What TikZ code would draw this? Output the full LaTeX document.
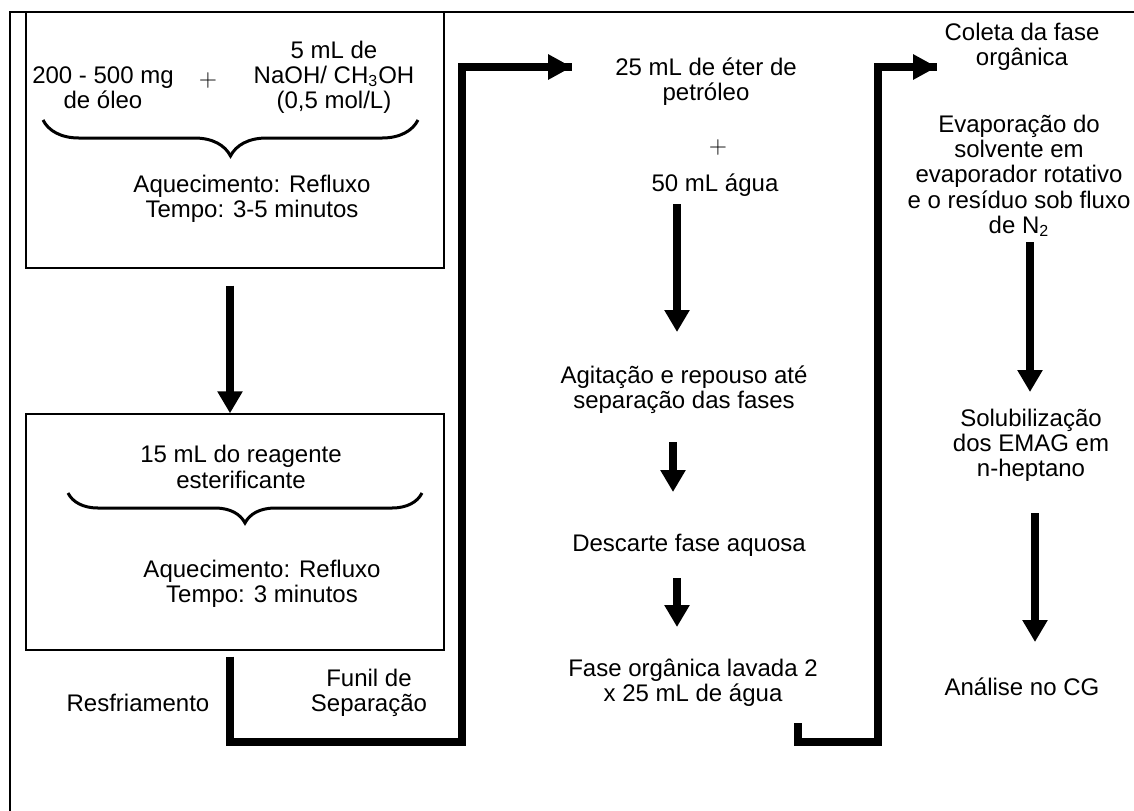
\documentclass[tikz,border=0pt]{standalone}
\usepackage{fontspec}
\setmainfont{Liberation Sans}
\usetikzlibrary{arrows.meta,decorations.pathreplacing}

\begin{document}
\begin{tikzpicture}[x=0.5pt,y=-0.5pt,
  every node/.style={align=center,inner sep=0pt,font=\fontsize{12}{12.6}\selectfont},
  box/.style={draw,line width=0.7pt},
  flow/.style={line width=3.6pt,-{Triangle[width=12pt,length=11pt]}},
  pipe/.style={line width=3.8pt,line join=miter},
  bracket/.style={decorate,decoration={brace,mirror,amplitude=#1},line width=1.5pt},
  plus/.style={font=\fontsize{13}{13}\selectfont}]

  \useasboundingbox (0,0) rectangle (1134,810);

  % frame
  \draw[line width=0.8pt] (10,820) -- (10,12) -- (1140,12);

  \node[box,minimum width=209pt,minimum height=128pt] (1) at (235,140) {};
  \node[box,minimum width=209pt,minimum height=118pt] (2) at (235,532) {};

  \node (3) at (103,88) {200 - 500 mg\\de óleo};
  \node[plus] (4) at (208,80) {$+$};
  \node (5) at (334,77) {5 mL de\\NaOH/ CH\textsubscript{3}OH\\(0,5 mol/L)};
  \node (6) at (252,199) {Aquecimento: Refluxo\\Tempo: 3-5 minutos};
  \node (7) at (241,467) {15 mL do reagente\\esterificante};
  \node (8) at (262,584) {Aquecimento: Refluxo\\Tempo: 3 minutos};
  \node (9) at (138,703) {Resfriamento};
  \node (10) at (369,693) {Funil de\\Separação};

  \node (11) at (706,82) {25 mL de éter de\\petróleo};
  \node[plus] (12) at (718,147) {$+$};
  \node (13) at (715,185) {50 mL água};
  \node (14) at (684,390) {Agitação e repouso até\\separação das fases};
  \node (15) at (689,545) {Descarte fase aquosa};
  \node (16) at (693,683) {Fase orgânica lavada 2\\x 25 mL de água};

  \node (17) at (1022,47) {Coleta da fase\\orgânica};
  \node (18) at (1019,176) {Evaporação do\\solvente em\\evaporador rotativo\\e o resíduo sob fluxo\\de N\textsubscript{2}};
  \node (19) at (1031,445) {Solubilização\\dos EMAG em\\n-heptano};
  \node (20) at (1022,687) {Análise no CG};

  \coordinate (k1) at (462,742);
  \coordinate (t1) at (572,67);
  \coordinate (s2) at (798,723);
  \coordinate (k2) at (878,742);
  \coordinate (t2) at (937,67);

  % braces
  \draw[bracket=18pt] (43,120) -- (418,120);
  \draw[bracket=15pt] (68,493) -- (422,493);

  % arrows
  \draw[flow] ([xshift=-2.5pt,yshift=-8.5pt]1.south) -- ([xshift=-2.5pt]2.north);
  \draw[flow] (677,204) -- (677,332);
  \draw[flow] (673,442) -- (673,492);
  \draw[flow] (677,578) -- (677,627);
  \draw[flow] (1030,242) -- (1030,392);
  \draw[flow] (1035,513) -- (1035,642);

  \draw[pipe] ([xshift=-2.5pt,yshift=-3pt]2.south) |- (k1) |- (t1);
  \draw[pipe,-{Triangle[width=12pt,length=12pt]}] (k1 |- t1) -- (t1);
  \draw[pipe] (s2) |- (k2) |- (t2);
  \draw[pipe,-{Triangle[width=12pt,length=12pt]}] (k2 |- t2) -- (t2);
\end{tikzpicture}
\end{document}
